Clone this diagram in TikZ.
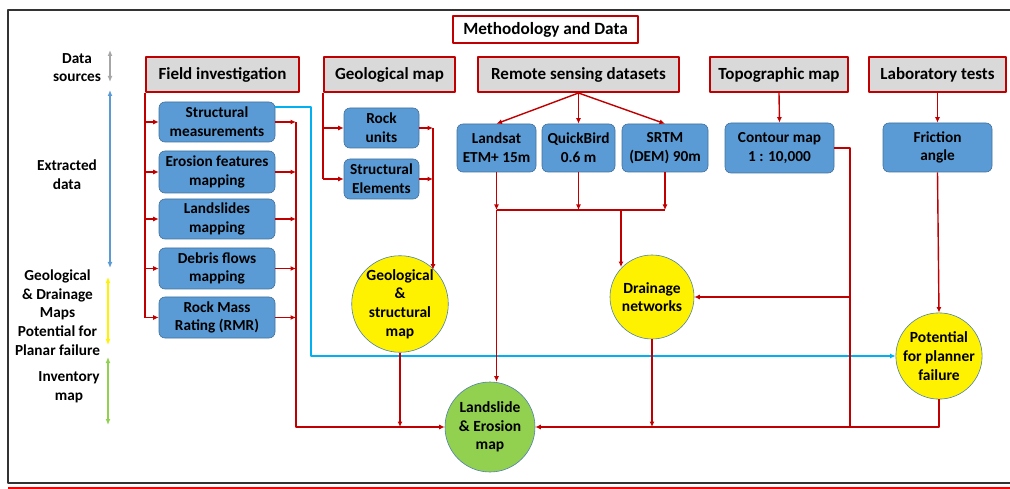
\documentclass[tikz,border=0pt]{standalone}
\usepackage{fontspec}
\setmainfont{Carlito}
\usetikzlibrary{arrows.meta,calc}

\definecolor{linered}{RGB}{192,0,0}
\definecolor{headgray}{RGB}{217,217,217}
\definecolor{boxblue}{RGB}{91,155,213}
\definecolor{boxedge}{RGB}{65,113,156}
\definecolor{circedge}{RGB}{80,130,170}
\definecolor{mapgreen}{RGB}{146,208,80}
\definecolor{linkcyan}{RGB}{0,176,240}

\begin{document}
\begin{tikzpicture}[
        x = 1pt, y = -1pt,
        line join=round,
        head/.style = {draw=linered, line width=2pt, fill=headgray, inner sep=0pt,
            minimum height=35pt, font=\fontsize{17}{19}\selectfont\bfseries},
        bluebox/.style = {draw=boxedge, line width=0.6pt, fill=boxblue, rounded corners=6pt,
            align=center, inner sep=0pt, font=\fontsize{15.3}{18.8}\selectfont\bfseries},
        mapcircle/.style = {circle, draw=circedge, fill=yellow, line width=0.6pt, align=center,
            inner sep=0pt, font=\fontsize{15.5}{18.7}\selectfont\bfseries},
        flow/.style = {linered, line width=1.4pt, -{Latex[length=5.5pt,width=5pt]}},
        link/.style = {linered, line width=1.4pt},
        legend/.style = {align=center, font=\fontsize{15.3}{18.8}\selectfont\bfseries},
        legarrow/.style = {line width=1.8pt, {Latex[length=6pt,width=5pt]}-{Latex[length=6pt,width=5pt]}}
    ]

    \useasboundingbox (0,0) rectangle (1010,489);

    % frame
    \draw[black!80, line width=2.5pt] (1010,10) -- (8,10) -- (8,483) -- (1010,483);
    \draw[red, line width=1.5pt] (8,488) -- (1010,488);

    % legend on the left
    \node[legend] (lsrc) at (77,67.5) {Data\\sources};
    \node[legend] (lext) at (67,174.5) {Extracted\\data};
    \node[legend] (lmaps) at (57.5,312.5) {Geological\\\& Drainage\\Maps\\Potential for\\Planar failure};
    \node[legend] (linv) at (69,387.5) {Inventory\\map};

    \draw[legarrow, black!35] (110,50) -- (110,82);
    \draw[legarrow, boxblue] (110,90) -- (110,268);
    \draw[legarrow, yellow] (108,277) -- (108,345);
    \draw[legarrow, mapgreen] (108,357) -- (108,425);

    % headers
    \node[head, fill=white, line width=1.8pt, minimum width=185pt, minimum height=27pt,
        font=\fontsize{17.2}{19}\selectfont\bfseries] (title) at (545.5,29.5) {Methodology and Data};
    \node[head, minimum width=153pt] (fi) at (222.5,74.5) {Field investigation};
    \node[head, minimum width=131pt] (gm) at (389.5,74.5) {Geological map};
    \node[head, minimum width=201pt] (rs) at (578.5,74.5) {Remote sensing datasets};
    \node[head, minimum width=138pt] (tm) at (779,74.5) {Topographic map};
    \node[head, minimum width=137pt] (lt) at (937.5,74.5) {Laboratory tests};

    % extracted data
    \node[bluebox, minimum width=116pt, minimum height=40pt] (sm) at (217,122) {Structural\\measurements};
    \node[bluebox, minimum width=116pt, minimum height=42pt] (ef) at (217,172) {Erosion features\\mapping};
    \node[bluebox, minimum width=116pt, minimum height=40pt] (ls) at (217,219) {Landslides\\mapping};
    \node[bluebox, minimum width=116pt, minimum height=41pt] (df) at (217,268.5) {Debris flows\\mapping};
    \node[bluebox, minimum width=116pt, minimum height=41pt] (rmr) at (217,317.5) {Rock Mass\\Rating (RMR)};

    \node[bluebox, minimum width=75pt, minimum height=40pt] (ru) at (381.5,128) {Rock\\units};
    \node[bluebox, minimum width=75pt, minimum height=40pt] (se) at (381.5,179) {Structural\\Elements};

    \node[bluebox, minimum width=79pt, minimum height=48pt] (landsat) at (496.5,148) {Landsat\\ETM+ 15m};
    \node[bluebox, minimum width=73pt, minimum height=48pt] (qb) at (578.5,148) {QuickBird\\0.6 m};
    \node[bluebox, minimum width=86pt, minimum height=48pt] (srtm) at (665,148) {SRTM\\(DEM) 90m};

    \node[bluebox, minimum width=109pt, minimum height=50pt] (contour) at (779.5,148) {Contour map\\1 : 10,000};
    \node[bluebox, minimum width=109pt, minimum height=49pt] (friction) at (937.5,147.5) {Friction\\angle};

    % maps
    \node[mapcircle, minimum size=88pt] (geo) at (400,304) {Geological\\\&\\structural\\map};
    \node[mapcircle, minimum size=84pt] (drain) at (652,297) {Drainage\\networks};
    \node[mapcircle, minimum size=84pt] (pot) at (939,356) {Potential\\for planner\\failure};
    \node[mapcircle, fill=mapgreen, minimum size=90pt] (land) at (490,427) {Landslide\\\& Erosion\\map};

    \coordinate (fbus) at (296,427);
    \coordinate (gbus) at (433,128);
    \coordinate (rbus) at (621,210);
    \coordinate (cbus) at (850,427);
    \coordinate (cyc) at (311,356);

    % field investigation
    \draw[link] (fi.south west) -- (fi.south west |- rmr.west);
    \foreach \b in {sm, ef, ls, df, rmr} {
        \draw[flow] (fi.south west |- \b.west) -- (\b.west);
        \draw[flow] (\b.east) -- (\b.east -| fbus);
    }
    \draw[flow] (sm.east -| fbus) |- (land.west);
    \draw[linkcyan, line width=1.4pt, -{Latex[length=5.5pt,width=5pt]}] ($(sm.east)+(0,-15)$) -| (cyc) -- (pot.west);

    % geological map
    \draw[link] (gm.south west) -- (gm.south west |- se.west);
    \foreach \b in {ru, se} {
        \draw[flow] (gm.south west |- \b.west) -- (\b.west);
        \draw[flow] (\b.east) -- (\b.east -| gbus);
    }
    \draw[flow] (gbus) -- (gbus |- geo.45);
    \draw[flow] (geo.south) -- (geo.south |- land.west);

    % remote sensing
    \foreach \b in {landsat, qb, srtm} {
        \draw[flow] (rs.south) -- (\b.north);
        \draw[flow] (\b.south) -- (\b.south |- rbus);
    }
    \draw[link] (landsat.south |- rbus) -- (srtm.south |- rbus);
    \draw[flow] (landsat.south |- rbus) -- (landsat.south |- land.north);
    \draw[flow] (rbus) -- (rbus |- drain.135);
    \draw[flow] (drain.south) -- (drain.south |- land.east);

    % topographic map
    \draw[flow] (tm.south) -- (contour.north);
    \draw[link] (contour.east) -| (cbus);
    \draw[flow] (cbus |- drain.east) -- (drain.east);

    % laboratory tests
    \draw[flow] (lt.south) -- (friction.north);
    \draw[flow] (friction.south) -- (pot.north);
    \draw[flow] (pot.south) |- (land.east);

\end{tikzpicture}
\end{document}
